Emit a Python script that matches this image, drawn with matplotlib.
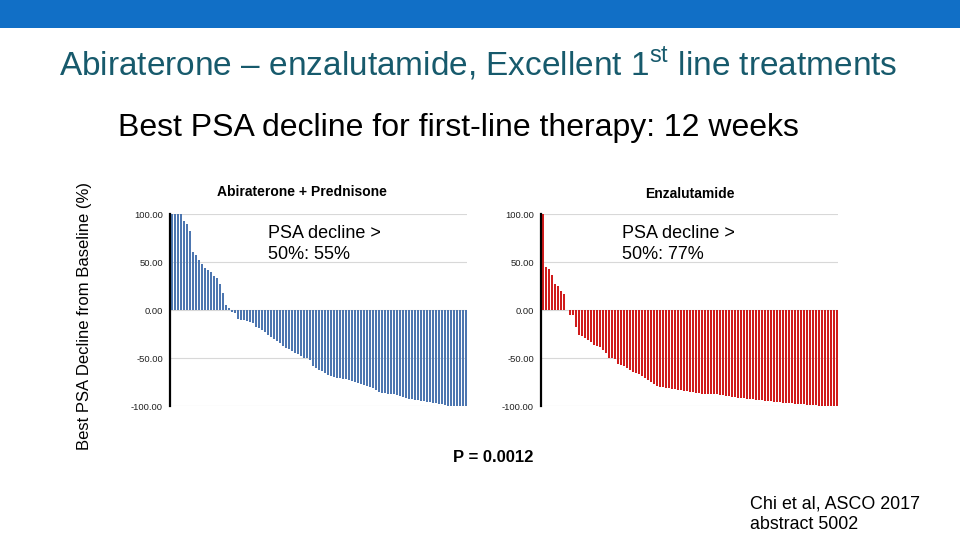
import matplotlib
matplotlib.use('Agg')
import matplotlib.pyplot as plt
from matplotlib.patches import Rectangle
import numpy as np

plt.rcParams['font.family'] = ['Liberation Sans', 'DejaVu Sans']
plt.rcParams['mathtext.fontset'] = 'custom'
plt.rcParams['mathtext.rm'] = 'Liberation Sans'

# best PSA change from baseline (%), one bar per patient, sorted
abi_values = [100, 100, 100, 100, 93, 90, 82, 60, 57, 52,
              48, 44, 42, 40, 35, 33, 27, 18, 5, 2,
              -2, -3, -9, -10, -10, -11, -12, -14, -18, -19,
              -21, -23, -26, -28, -30, -32, -34, -38, -40, -41,
              -43, -45, -46, -48, -50, -50, -52, -58, -60, -62,
              -64, -66, -68, -69, -70, -71, -71, -72, -72, -73,
              -74, -75, -76, -77, -78, -79, -80, -81, -83, -85,
              -86, -86, -87, -87, -88, -89, -90, -91, -92, -93,
              -93, -94, -94, -95, -95, -96, -96, -97, -97, -98,
              -98, -99, -100, -100, -100, -100, -100, -100, -100]
enza_values = [100, 45, 43, 36, 27, 25, 20, 17, 0, -5,
               -5, -18, -26, -27, -29, -31, -33, -36, -38, -39,
               -42, -45, -50, -50, -51, -56, -57, -58, -60, -62,
               -65, -66, -67, -69, -71, -73, -75, -77, -79, -80,
               -80, -81, -81, -82, -82, -83, -83, -84, -84, -85,
               -85, -86, -86, -87, -87, -87, -88, -88, -88, -89,
               -89, -90, -90, -91, -91, -92, -92, -92, -93, -93,
               -93, -94, -94, -94, -95, -95, -95, -96, -96, -96,
               -97, -97, -97, -97, -98, -98, -98, -98, -99, -99,
               -99, -99, -100, -100, -100, -100, -100, -100, -100]
yticks = [100, 50, 0, -50, -100]

W, H = 960, 540
BAR_W = 2 / 3
fig = plt.figure(figsize=(9.6, 5.4), dpi=100)

# top blue band
fig.patches.append(Rectangle((0, 1 - 28 / H), 1, 28 / H, transform=fig.transFigure,
                             facecolor='#116fc6', edgecolor='none'))

fig.text(478 / W, 1 - 63 / H, r'Abiraterone – enzalutamide, Excellent 1$^{\mathrm{st}}$ line treatments',
         ha='center', va='center', fontsize=24, color='#175a6c')
fig.text(118 / W, 1 - 128 / H, 'Best PSA decline for first-line therapy: 12 weeks',
         ha='left', va='center', fontsize=23, color='black')
fig.text(85 / W, 1 - 316 / H, 'Best PSA Decline from Baseline (%)', rotation=90,
         ha='center', va='center', fontsize=12, color='black')


def waterfall(left_px, values, color, title, title_x, title_y, note):
    n = len(values)
    # 3 px per patient so every bar lands on whole pixels
    ax = fig.add_axes([left_px / W, 1 - 406 / H, 3 * n / W, 192 / H])
    x = np.arange(n)
    ax.bar(x, values, width=BAR_W, color=color, edgecolor='none', zorder=2)
    ax.set_xlim(-BAR_W / 2 - 1 / 3, n - BAR_W / 2 - 1 / 3)
    ax.set_ylim(-100, 100)
    ax.set_yticks(yticks)
    ax.set_yticklabels(['%.2f' % v for v in yticks], fontsize=6.8, color='#222222')
    ax.tick_params(axis='y', length=0, pad=5)
    ax.set_xticks([])
    ax.grid(axis='y', color='#d8d8d8', linewidth=0.8, zorder=1)
    for s in ['top', 'right', 'bottom']:
        ax.spines[s].set_visible(False)
    ax.spines['left'].set_color('black')
    ax.spines['left'].set_linewidth(1.6)
    ax.spines['left'].set_zorder(3)
    fig.text(title_x / W, 1 - title_y / H, title, ha='center', va='center',
             fontsize=10, fontweight='bold')
    fig.text(note[0] / W, 1 - note[1] / H, note[2], ha='left', va='center',
             fontsize=13, linespacing=1.3)
    return ax


waterfall(170, abi_values, '#4d76b0', 'Abiraterone + Prednisone', 302, 192,
          (268, 244, 'PSA decline >\n50%: 55%'))
waterfall(541, enza_values, '#d01c1c', 'Enzalutamide', 690, 194,
          (622, 244, 'PSA decline >\n50%: 77%'))

fig.text(453 / W, 1 - 457 / H, 'P = 0.0012', ha='left', va='center',
         fontsize=12, fontweight='bold')
fig.text(750 / W, 1 - 514 / H, 'Chi et al, ASCO 2017\nabstract 5002', ha='left', va='center',
         fontsize=12.9, linespacing=1.25)

fig.savefig('out.png', dpi=100)
